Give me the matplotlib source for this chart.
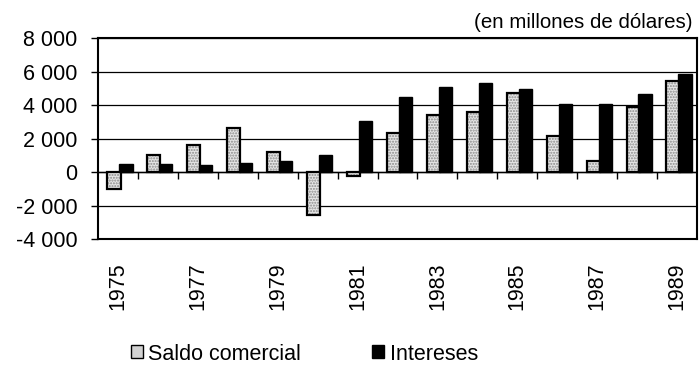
import numpy as np
import matplotlib
matplotlib.use("Agg")
import matplotlib.pyplot as plt
from matplotlib.patches import Patch
from matplotlib.ticker import FuncFormatter

plt.rcParams['font.family'] = ['Liberation Sans', 'DejaVu Sans']

# datos (millones de dolares)
years = list(range(1975, 1990))
saldo_comercial = [-1000, 1000, 1600, 2650, 1200, -2550, -250, 2300,
                   3400, 3600, 4700, 2150, 650, 3900, 5450]
intereses = [500, 500, 400, 550, 650, 1000, 3050, 4450,
             5050, 5300, 4950, 4050, 4050, 4650, 5850]
year_labels = [str(y) for y in years[::2]]
y_ticks = [-4000, -2000, 0, 2000, 4000, 6000, 8000]

fig = plt.figure(figsize=(7, 3.68), dpi=100)
ax = fig.add_axes([0.14, 0.3505, 0.8557, 0.5462])

x = np.arange(len(years))
w = 0.33

# barras del saldo: punteado gris con borde negro
ax.bar(x - 0.1, saldo_comercial, w, color='#e6e6e6', edgecolor='#8a8a8a',
       hatch='......', linewidth=0, zorder=3)
ax.bar(x - 0.1, saldo_comercial, w, fill=False, edgecolor='black',
       linewidth=1.6, zorder=4)
ax.bar(x + 0.2, intereses, w, color='black', edgecolor='black',
       linewidth=1.0, zorder=5)

ax.set_xlim(-0.5, len(years) - 0.5)
ax.set_ylim(-4000, 8000)
ax.set_yticks(y_ticks)
ax.yaxis.set_major_formatter(FuncFormatter(
    lambda v, p: f"{int(v):,}".replace(",", " ")))
ax.grid(axis='y', color='black', linewidth=0.9, zorder=1)
ax.axhline(0, color='black', linewidth=1.0, zorder=2)

# marcas cortas sobre la linea del cero entre categorias
ax.vlines(x[:-1] + 0.5, -420, 0, color='black', linewidth=1.0, zorder=2)

ax.set_xticks(x[::2])
ax.set_xticklabels(year_labels, rotation=90)
ax.tick_params(axis='x', length=0, pad=17, labelsize=15.5)
ax.tick_params(axis='y', length=5, width=1, pad=10, labelsize=15.5)
for s in ax.spines.values():
    s.set_linewidth(1.5)

ax.text(0.992, 1.03, "(en millones de dólares)", transform=ax.transAxes,
        ha='right', va='bottom', fontsize=14.8)

handles = [Patch(facecolor='#d2d2d2', edgecolor='black', linewidth=1.0),
           Patch(facecolor='black', edgecolor='black')]
fig.legend(handles, ["Saldo comercial", "Intereses"], loc='center',
           bbox_to_anchor=(0.435, 0.038), ncol=2, frameon=False,
           fontsize=15.5, handlelength=0.55, handleheight=0.55,
           handletextpad=0.25, columnspacing=3.3)

fig.savefig("out.png", dpi=100)
